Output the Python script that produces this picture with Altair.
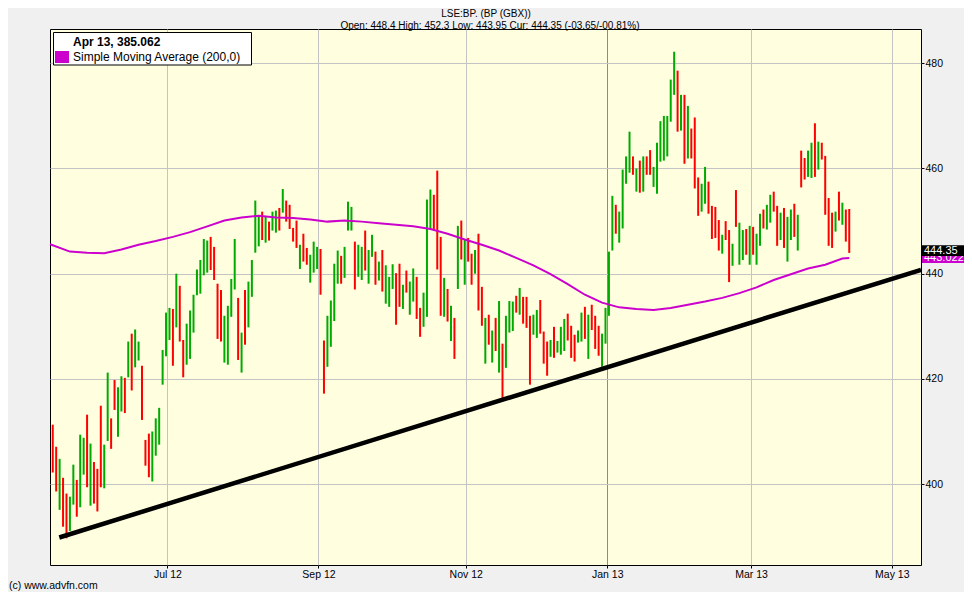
import altair as alt
import pandas as pd

# ---- daily bars (trading-day index), high / low and direction ----
highs = [411.3, 407.1, 404.8, 401.2, 398.2, 397.6, 403.7, 400.8, 409.4, 408.8,
         413.2, 407.7, 404.2, 402.9, 414.9, 407.5, 421.2, 412.5, 419.8, 418.4,
         420.5, 420.2, 427.1, 428.6, 429.4, 427.1, 422.5, 408.4, 409.6, 410.0,
         412.5, 414.5, 425.5, 432.6, 433.5, 433.3, 440.0, 437.7, 427.4, 430.5,
         433.0, 436.0, 440.8, 442.6, 446.6, 446.3, 447.0, 445.1, 438.1, 436.9,
         432.0, 433.9, 439.0, 446.6, 435.4, 428.8, 436.9, 438.5, 442.6, 453.9,
         450.9, 451.8, 450.9, 449.9, 451.8, 452.0, 452.5, 456.1, 453.9, 453.1,
         448.7, 450.1, 445.5, 447.6, 444.9, 443.6, 446.1, 445.1, 444.7, 427.3,
         432.0, 434.9, 441.9, 444.4, 443.4, 445.1, 453.7, 452.7, 446.1, 445.5,
         445.1, 448.2, 444.5, 447.4, 444.2, 442.3, 444.5, 441.6, 439.4, 441.8,
         440.1, 441.9, 437.9, 440.6, 438.5, 441.0, 439.4, 433.5, 436.4, 454.1,
         456.0, 455.0, 459.6, 447.0, 439.2, 437.1, 433.9, 431.6, 449.1, 450.1,
         446.6, 446.8, 443.8, 444.5, 447.6, 437.5, 431.6, 432.2, 429.2, 431.6,
         434.8, 426.7, 432.0, 434.8, 434.7, 435.8, 437.3, 435.6, 435.6, 432.0,
         432.2, 433.1, 435.0, 429.0, 427.1, 427.4, 429.9, 427.2, 429.9, 431.4,
         432.4, 430.1, 428.4, 429.2, 432.6, 433.7, 432.2, 434.1, 432.0, 430.1,
         428.6, 433.5, 444.2, 454.8, 453.1, 451.8, 459.8, 462.3, 467.0, 462.3,
         460.0, 461.5, 462.3, 462.3, 463.5, 460.3, 464.9, 469.0, 470.0, 470.0,
         476.9, 482.2, 478.6, 474.0, 474.0, 471.9, 467.6, 469.7, 458.3, 457.1,
         460.3, 457.5, 452.9, 452.7, 450.2, 447.4, 450.0, 448.3, 445.7, 455.9,
         449.7, 448.3, 448.5, 449.1, 448.9, 447.6, 451.4, 452.2, 453.1, 455.0,
         455.6, 452.9, 451.6, 452.5, 450.8, 452.2, 453.3, 451.2, 463.4, 462.0,
         463.4, 464.9, 468.6, 465.1, 464.9, 462.4, 454.4, 451.6, 451.8, 455.6,
         453.5, 452.2, 452.3]
lows = [402.2, 398.6, 395.1, 391.9, 389.7, 391.1, 396.1, 393.8, 395.6, 401.8,
        399.4, 395.9, 396.3, 394.8, 399.4, 399.2, 408.2, 406.7, 414.1, 409.0,
        413.8, 413.5, 420.3, 417.8, 422.2, 423.5, 412.2, 403.5, 401.3, 400.5,
        405.4, 407.5, 418.9, 424.3, 427.4, 422.5, 429.8, 427.1, 420.3, 422.7,
        423.8, 428.8, 435.9, 436.2, 439.7, 440.2, 440.7, 438.8, 427.6, 427.1,
        423.1, 422.7, 431.8, 437.0, 423.6, 421.2, 426.5, 429.8, 435.6, 444.0,
        445.2, 446.4, 445.9, 446.3, 448.2, 447.8, 448.2, 451.6, 449.9, 448.5,
        446.1, 444.9, 440.9, 442.3, 441.7, 438.3, 440.2, 440.9, 436.0, 417.2,
        422.3, 426.1, 431.0, 438.1, 438.1, 439.2, 448.2, 448.2, 437.0, 439.4,
        438.8, 440.6, 438.1, 443.2, 437.9, 438.7, 436.6, 434.3, 433.7, 437.1,
        430.3, 433.7, 433.3, 436.4, 432.2, 434.7, 431.4, 428.0, 429.9, 431.8,
        448.4, 448.3, 440.8, 432.0, 431.8, 430.9, 427.2, 423.8, 437.1, 442.7,
        437.9, 442.3, 437.9, 440.0, 433.0, 430.1, 422.9, 426.5, 423.1, 425.3,
        421.2, 416.4, 422.1, 428.8, 429.1, 432.6, 432.2, 430.5, 429.7, 418.9,
        428.4, 427.8, 428.6, 422.9, 420.6, 424.2, 424.0, 425.0, 424.6, 425.3,
        427.3, 424.0, 423.3, 426.9, 427.1, 427.6, 423.8, 429.3, 425.7, 424.4,
        422.3, 426.7, 432.0, 444.4, 447.6, 445.9, 448.6, 457.1, 459.2, 458.8,
        455.6, 455.4, 455.6, 458.8, 458.8, 456.5, 455.2, 461.3, 461.5, 462.3,
        468.9, 474.0, 467.0, 467.2, 460.9, 461.9, 461.9, 456.2, 451.0, 451.8,
        453.3, 451.4, 446.6, 446.8, 444.4, 443.8, 446.4, 438.4, 441.5, 448.9,
        441.7, 442.6, 443.6, 441.7, 443.6, 441.7, 445.3, 448.6, 448.4, 449.7,
        451.8, 445.3, 446.4, 444.9, 442.3, 446.4, 447.0, 444.4, 456.4, 457.9,
        458.4, 458.2, 458.4, 459.8, 461.7, 451.2, 445.3, 444.9, 448.0, 450.1,
        449.3, 446.1, 443.95]
direction = list(
    "RRGRRGGRGG" "RGRRRGGRRG" "GRGRGGRRRG" "GGGGGRGRRG" "GGGGGGRRRR"
    "GGGGRGRGGG" "GRGRGGRGRR" "RRGRRGGGRR" "GGGGRGGGRG" "GRGGRGRGGG"
    "RRGRGGRRGG" "GRRRGRGRGR" "GRRGRRGRGR" "GRGGGRGRRR" "GGRRRGRGGG"
    "RRRGGRGRRR" "GGGGRGGGGR" "GRGRRGGGGG" "GGRGRGRRRG" "GRRRRGRRGR"
    "GGRGRGGRGG" "RRGRGGRGRR" "GGRGRRRRGR" "GRR")

# ---- 200-day simple moving average ----
ma_idx = [-0.8, 5, 10, 15, 20, 25, 30, 35, 40, 45, 50, 55, 60, 65, 70, 75, 80, 85,
          90, 95, 100, 105, 110, 115, 120, 125, 130, 135, 140, 145, 150, 155,
          160, 165, 170, 175, 180, 185, 190, 195, 200, 205, 210, 215, 220, 225,
          230, 232]
ma_val = [445.6, 444.2, 444.0, 443.9, 444.6, 445.5, 446.2, 447.0, 447.9, 449.0,
          450.1, 450.7, 451.0, 450.7, 450.6, 450.3, 449.9, 450.1, 449.9, 449.6,
          449.3, 449.0, 448.5, 447.6, 446.5, 445.5, 444.4, 443.0, 441.6, 439.9,
          438.0, 436.0, 434.5, 433.6, 433.3, 433.1, 433.5, 434.1, 434.7, 435.4,
          436.3, 437.4, 438.8, 439.9, 441.0, 441.7, 442.9, 443.0]

# ---- trend line ----
trend_idx = [1.9, 252.9]
trend_val = [389.85, 440.74]

# ---- axes ----
month_pos = [33.4, 77.4, 120.3, 161.5, 203.4, 244.4]
month_lbl = ["Jul 12", "Sep 12", "Nov 12", "Jan 13", "Mar 13", "May 13"]
y_ticks = [400, 420, 440, 460, 480]

X_DOM = [-0.8, 252.9]
Y_DOM = [384.62, 486.52]

bars = pd.DataFrame({"i": list(range(len(highs))), "high": highs, "low": lows,
                     "dir": direction})
ma = pd.DataFrame({"i": ma_idx, "v": ma_val})
trend = pd.DataFrame({"i": trend_idx, "v": trend_val})

label_expr = ""
for p, l in zip(month_pos, month_lbl):
    label_expr += f"datum.value == {p} ? '{l}' : "
label_expr += "''"

FONT = "Liberation Sans"

xs = alt.Scale(domain=X_DOM, nice=False, zero=False)
ys = alt.Scale(domain=Y_DOM, nice=False, zero=False)

x_axis = alt.Axis(values=month_pos, labelExpr=label_expr, grid=True,
                  gridColor={"condition": {"test": "datum.value == 161.5", "value": "#8c8c8c"},
                             "value": "#c4c4c4"},
                  gridWidth=1, tickSize=3, tickColor="#000000", domain=False,
                  labelFont=FONT, labelFontSize=10.5, labelColor="#000000",
                  labelPadding=1, title=None)
y_axis = alt.Axis(values=y_ticks, orient="right", grid=True, gridColor="#c4c4c4",
                  gridWidth=1, tickSize=3, tickColor="#000000", domain=False,
                  labelFont=FONT, labelFontSize=10.5, labelColor="#000000",
                  labelPadding=1, title=None, labelBaseline="middle")

base_bars = alt.Chart(bars).mark_rule(strokeWidth=2).encode(
    x=alt.X("i:Q", scale=xs, axis=x_axis),
    y=alt.Y("low:Q", scale=ys, axis=y_axis),
    y2="high:Q",
    color=alt.Color("dir:N", scale=alt.Scale(domain=["G", "R"], range=["#00aa00", "#ff0000"]),
                    legend=None),
)

ma_line = alt.Chart(ma).mark_line(color="#cc00cc", strokeWidth=2).encode(
    x=alt.X("i:Q", scale=xs), y=alt.Y("v:Q", scale=ys))

trend_line = alt.Chart(trend).mark_line(color="#000000", strokeWidth=4.5, clip=True).encode(
    x=alt.X("i:Q", scale=xs), y=alt.Y("v:Q", scale=ys))

# legend box
one = pd.DataFrame({"a": [0]})
legend_box = alt.Chart(one).mark_rect(
    fill="#ffffff", stroke="#000000", strokeWidth=1).encode(
    x=alt.value(3.5), x2=alt.value(201.5), y=alt.value(3.5), y2=alt.value(36))
legend_sw = alt.Chart(one).mark_rect(fill="#cc00cc").encode(
    x=alt.value(5), x2=alt.value(19), y=alt.value(22), y2=alt.value(34))
legend_t1 = alt.Chart(pd.DataFrame({"t": ["Apr 13, 385.062"]})).mark_text(
    align="left", baseline="alphabetic", font=FONT, fontSize=12, fontWeight="bold",
    color="#000000").encode(text="t:N", x=alt.value(23), y=alt.value(16.5))
legend_t2 = alt.Chart(pd.DataFrame({"t": ["Simple Moving Average (200,0)"]})).mark_text(
    align="left", baseline="alphabetic", font=FONT, fontSize=12, color="#000000").encode(
    text="t:N", x=alt.value(23), y=alt.value(31.5))

# header
head1 = alt.Chart(pd.DataFrame({"t": ["LSE:BP. (BP (GBX))"]})).mark_text(
    align="center", baseline="alphabetic", font=FONT, fontSize=10, color="#000000").encode(
    text="t:N", x=alt.value(436), y=alt.value(-11.8))
head2 = alt.Chart(pd.DataFrame({"t": ["Open: 448.4 High: 452.3 Low: 443.95 Cur: 444.35 (-03.65/-00.81%)"]})).mark_text(
    align="center", baseline="alphabetic", font=FONT, fontSize=10, color="#000000").encode(
    text="t:N", x=alt.value(440), y=alt.value(-0.5))

# right-hand value boxes
last_ma = [443.022]
last_px = [444.35]
ma_box = alt.Chart(pd.DataFrame({"lo": [last_ma[0] - 1.0], "hi": [last_ma[0] + 1.0]})).mark_rect(
    fill="#cc00cc").encode(x=alt.value(872), x2=alt.value(930),
                           y=alt.Y("lo:Q", scale=ys), y2="hi:Q")
ma_txt = alt.Chart(pd.DataFrame({"v": last_ma, "t": ["443.022"]})).mark_text(
    align="left", baseline="middle", font=FONT, fontSize=11, color="#ffffff").encode(
    x=alt.value(874), y=alt.Y("v:Q", scale=ys), text="t:N")
px_box = alt.Chart(pd.DataFrame({"lo": [last_px[0] - 1.0], "hi": [last_px[0] + 1.05]})).mark_rect(
    fill="#000000").encode(x=alt.value(872), x2=alt.value(930),
                           y=alt.Y("lo:Q", scale=ys), y2="hi:Q")
px_txt = alt.Chart(pd.DataFrame({"v": last_px, "t": ["444.35"]})).mark_text(
    align="left", baseline="middle", font=FONT, fontSize=11, color="#ffffff").encode(
    x=alt.value(874), y=alt.Y("v:Q", scale=ys), text="t:N")

copy_txt = alt.Chart(pd.DataFrame({"t": ["(c) www.advfn.com"]})).mark_text(
    align="left", baseline="alphabetic", font=FONT, fontSize=10.5, color="#000000").encode(
    text="t:N", x=alt.value(-41), y=alt.value(560))

chart = alt.layer(
    base_bars, ma_line, trend_line, legend_box, legend_sw, legend_t1, legend_t2,
    head1, head2, ma_box, ma_txt, px_box, px_txt, copy_txt
).properties(
    width=871, height=536,
    padding={"left": 42, "top": 21, "right": 43, "bottom": 27},
    autosize=alt.AutoSizeParams(type="none"),
    background="#f0f0f0",
).configure_view(
    fill="#ffffe0", stroke="#000000", strokeWidth=1
)

chart.save("out.html", embed_options={"renderer": "svg", "actions": False})
